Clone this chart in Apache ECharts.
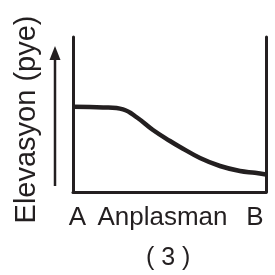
<!DOCTYPE html>
<html>
<head>
<meta charset="utf-8">
<script src="https://cdn.jsdelivr.net/npm/echarts@6/dist/echarts.min.js"></script>
<style>
  html, body { margin: 0; padding: 0; background: #fff; }
  #chart { width: 275px; height: 275px; }
</style>
</head>
<body>
<div id="chart"></div>
<script>
// distance along the transect (0 = A, 193 = B) and elevation
var distance = [0, 30, 50, 64, 80, 97, 107, 127, 147, 167, 182, 193]
var elevation = [85.3, 84.6, 82.6, 74.5, 62, 51, 45, 34, 26, 21, 19.2, 17.5]
var xTickLabels = ['A', 'B']
var xTickAt = [4.5, 182]
var xName = 'Anplasman'
var yName = 'Elevasyon (pye)'
var caption = '( 3 )'

var ink = '#231f20'
var font = 'Liberation Sans'

var chart = echarts.init(document.getElementById('chart'))

var points = []
for (var i = 0; i < distance.length; i++) {
  points.push([distance[i], elevation[i]])
}

var option = {
  animation: false,
  title: {
    text: caption,
    left: 141,
    top: 241,
    textStyle: { fontSize: 25, fontWeight: 'normal', color: ink, fontFamily: font }
  },
  grid: { left: 73, right: 9, top: 37, bottom: 83 },
  xAxis: {
    type: 'value',
    min: 0,
    max: 193,
    name: xName,
    nameLocation: 'middle',
    nameGap: 13,
    nameMoveOverlap: false,
    nameTextStyle: {
      fontSize: 26, color: ink, fontFamily: font,
      verticalAlign: 'top', padding: [0, 14, 0, 0]
    },
    axisLine: { show: true, lineStyle: { color: ink, width: 3 } },
    axisTick: { show: false },
    splitLine: { show: false },
    axisLabel: {
      margin: 13,
      fontSize: 26,
      color: ink,
      fontFamily: font,
      verticalAlign: 'top',
      customValues: xTickAt,
      formatter: function (v) { return v === xTickAt[0] ? xTickLabels[0] : xTickLabels[1] }
    }
  },
  yAxis: [
    {
      type: 'value',
      min: 0,
      max: 155,
      position: 'left',
      name: yName,
      nameLocation: 'middle',
      nameRotate: 90,
      nameGap: 32,
      nameTextStyle: { fontSize: 29, color: ink, fontFamily: font, padding: [0, 10, 0, 0] },
      axisLine: { show: true, lineStyle: { color: ink, width: 3 } },
      axisTick: { show: false },
      axisLabel: { show: false },
      splitLine: { show: false }
    },
    {
      type: 'value',
      min: 0,
      max: 155,
      position: 'right',
      axisLine: { show: true, lineStyle: { color: ink, width: 3 } },
      axisTick: { show: false },
      axisLabel: { show: false },
      splitLine: { show: false }
    }
  ],
  graphic: [
    {
      type: 'line',
      shape: { x1: 55, y1: 186, x2: 55, y2: 56 },
      style: { stroke: ink, lineWidth: 2.5 }
    },
    {
      type: 'polygon',
      shape: { points: [[55, 46], [49.5, 60], [60.5, 60]] },
      style: { fill: ink }
    }
  ],
  series: [
    {
      type: 'line',
      data: points,
      smooth: 0.4,
      showSymbol: false,
      lineStyle: { color: ink, width: 4.5 }
    }
  ]
}

chart.setOption(option)
</script>
</body>
</html>
